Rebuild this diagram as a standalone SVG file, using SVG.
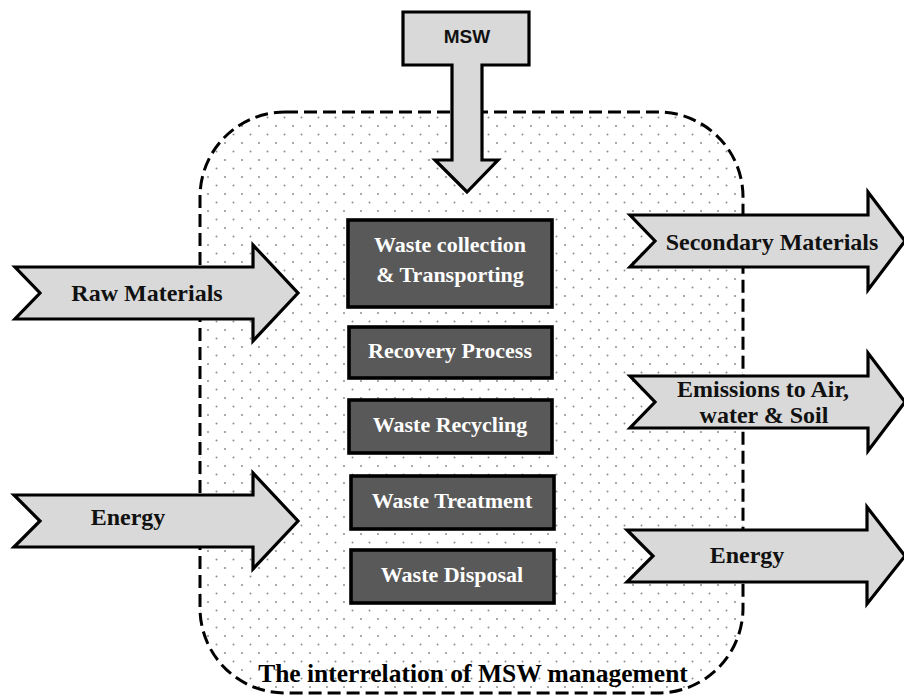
<svg xmlns="http://www.w3.org/2000/svg" width="904" height="697" viewBox="0 0 904 697">
<defs>
<pattern id="dots" x="0" y="3" width="17" height="17" patternUnits="userSpaceOnUse">
<circle cx="4" cy="4" r="1" fill="#8e8e8e"/>
<circle cx="12.5" cy="12.5" r="1" fill="#8e8e8e"/>
</pattern>
<style>
.flow{fill:#d9d9d9;stroke:#000;stroke-width:3.2;stroke-linejoin:miter}
.box{fill:#595959;stroke:#000;stroke-width:3.6}
.at{font-family:"Liberation Serif",serif;font-weight:bold;font-size:24px;fill:#111;text-anchor:middle}
.bt{font-family:"Liberation Serif",serif;font-weight:bold;font-size:22px;fill:#fff;text-anchor:middle}
.boundary{fill:url(#dots);stroke:#000;stroke-width:3;stroke-dasharray:13 6}
</style>
</defs>
<rect width="904" height="697" fill="#fff"/>
<g id="system-boundary">
<rect class="boundary" x="200" y="112" width="543" height="581" rx="85" ry="85"/>
<text x="473" y="682" font-family="Liberation Serif, serif" font-weight="bold" font-size="25.5" text-anchor="middle" fill="#000">The interrelation of MSW management</text>
</g>
<g id="connectors">
<g id="msw-input">
<polygon class="flow" points="403,12 529,12 529,65 482,65 482,160 498,160 467,192 435,160 452,160 452,65 403,65"/>
<text x="467" y="43" font-family="Liberation Sans, sans-serif" font-weight="bold" font-size="19" text-anchor="middle" fill="#111">MSW</text>
</g>
<g id="raw-materials">
<polygon class="flow" points="15,267 253,267 253,245 298,293 253,341 253,319 15,319 40,293"/>
<text class="at" x="147" y="301">Raw Materials</text>
</g>
<g id="energy-in">
<polygon class="flow" points="14,495 253,495 253,473 298,521 253,569 253,547 14,547 40,521"/>
<text class="at" x="128" y="525">Energy</text>
</g>
<g id="secondary-materials">
<polygon class="flow" points="630,215 868,215 868,192 905,241 868,290 868,267 630,267 655,241"/>
<text class="at" x="772" y="250">Secondary Materials</text>
</g>
<g id="emissions">
<polygon class="flow" points="630,376 868,376 868,353 905,402 868,451 868,428 630,428 655,402"/>
<text class="at" x="763" y="397">Emissions to Air,</text>
<text class="at" x="764" y="423">water &amp; Soil</text>
</g>
<g id="energy-out">
<polygon class="flow" points="627,530 867,530 867,507 905,556 867,604 867,582 627,582 653,556"/>
<text class="at" x="747" y="563">Energy</text>
</g>
</g>
<g id="waste-collection">
<rect class="box" x="348" y="220" width="204" height="87"/>
<text class="bt" x="450" y="252">Waste collection</text>
<text class="bt" x="450" y="282">&amp; Transporting</text>
</g>
<g id="recovery-process">
<rect class="box" x="349" y="327" width="203" height="51"/>
<text class="bt" x="450" y="358">Recovery Process</text>
</g>
<g id="waste-recycling">
<rect class="box" x="349" y="400" width="203" height="53"/>
<text class="bt" x="450" y="432">Waste Recycling</text>
</g>
<g id="waste-treatment">
<rect class="box" x="351" y="476" width="203" height="53"/>
<text class="bt" x="452" y="508">Waste Treatment</text>
</g>
<g id="waste-disposal">
<rect class="box" x="351" y="550" width="203" height="53"/>
<text class="bt" x="452" y="582">Waste Disposal</text>
</g>
</svg>
